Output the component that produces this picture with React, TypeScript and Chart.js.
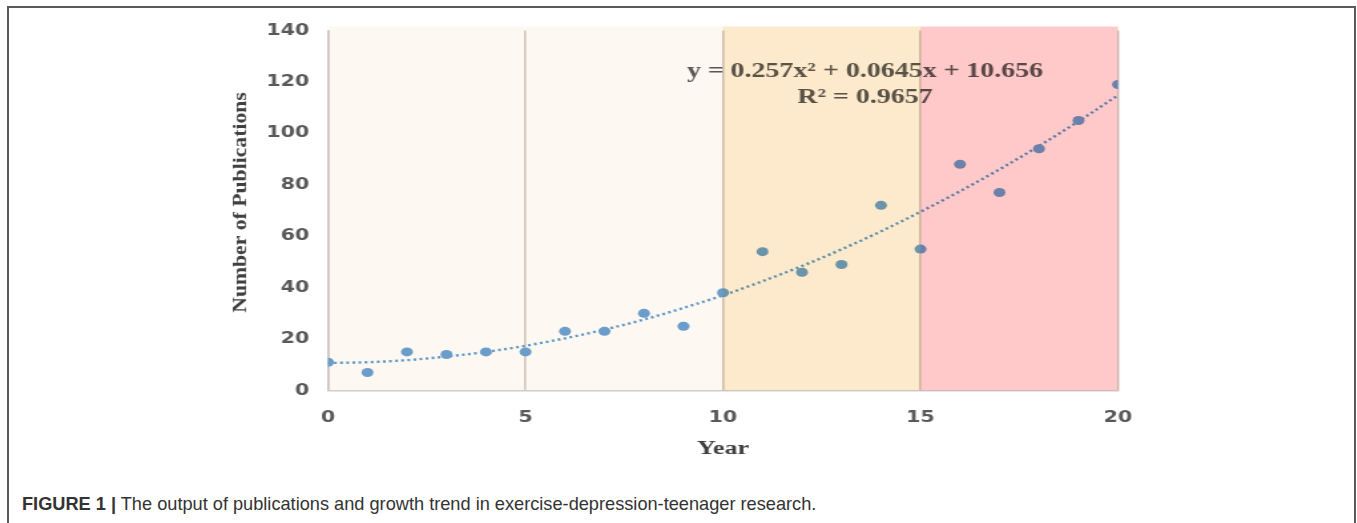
import React, { useEffect, useRef } from "react";
import { Chart, registerables } from "chart.js";

Chart.register(...registerables);

// ---- data ----
const YEARS = [0, 1, 2, 3, 4, 5, 6, 7, 8, 9, 10, 11, 12, 13, 14, 15, 16, 17, 18, 19, 20];
const PUBLICATIONS = [11, 7, 15, 14, 15, 15, 23, 23, 30, 25, 38, 54, 46, 49, 72, 55, 88, 77, 94, 105, 119];
// dotted trend line values at each year
const TREND = [10.7, 11.0, 11.8, 13.2, 15.0, 17.4, 20.3, 23.7, 27.6, 32.1, 37.0, 42.5, 48.4, 54.9, 61.9, 69.5, 77.5, 86.0, 95.1, 104.7, 114.8];
const X_TICK_STEP = 5;
const Y_TICK_STEP = 20;
const X_RANGE = [0, 20];
const Y_RANGE = [0, 140];
const BAND_START = [0, 10, 15];
const BAND_END = [10, 15, 20];
const EQUATION_LINES = ["y = 0.257x\u00b2 + 0.0645x + 10.656", "R\u00b2 = 0.9657"];
const X_TITLE = "Year";
const Y_TITLE = "Number of Publications";
const CAPTION_BOLD = "FIGURE 1 |";
const CAPTION_TEXT = " The output of publications and growth trend in exercise-depression-teenager research.";

// ---- styles ----
const STRETCH = 1.33;
const CANVAS_W = 1020;
const CANVAS_H = 470;
const BAND_COLORS = ["#fdf8f1", "#fde9cb", "#ffc9c9"];
const POINT_COLOR = "#6ca2d6";
const TREND_COLOR = "#5b9bd5";
const TEXT_GRAY = "#595959";
const TITLE_GRAY = "#404040";

const overlayPlugin = {
  id: "overlay",
  afterDatasetsDraw(chart: any) {
    const { ctx, chartArea, scales } = chart;
    const xs = scales.x;
    // equation (trendline label)
    ctx.save();
    ctx.fillStyle = TEXT_GRAY;
    ctx.font = "bold 21px 'Liberation Serif', 'Times New Roman', serif";
    ctx.textAlign = "center";
    ctx.textBaseline = "middle";
    const cx = 865 / STRETCH;
    ctx.fillText(EQUATION_LINES[0], cx, 72);
    ctx.fillText(EQUATION_LINES[1], cx, 98);
    ctx.restore();
    // shaded periods, multiplied over the marks
    ctx.save();
    ctx.globalCompositeOperation = "multiply";
    for (let i = 0; i < BAND_START.length; i++) {
      const x0 = xs.getPixelForValue(BAND_START[i]);
      const x1 = xs.getPixelForValue(BAND_END[i]);
      ctx.fillStyle = BAND_COLORS[i];
      ctx.fillRect(x0, chartArea.top - 4, x1 - x0, chartArea.bottom - chartArea.top + 4);
    }
    ctx.restore();
  },
  afterDraw(chart: any) {
    const { ctx, chartArea } = chart;
    ctx.save();
    ctx.fillStyle = TITLE_GRAY;
    ctx.font = "bold 21.7px 'Liberation Serif', 'Times New Roman', serif";
    ctx.textAlign = "center";
    ctx.textBaseline = "middle";
    ctx.translate(241 / STRETCH, (chartArea.top + chartArea.bottom) / 2 - 8);
    ctx.rotate(-Math.PI / 2);
    ctx.scale(1, 0.66);
    ctx.fillText(Y_TITLE, 0, 0);
    ctx.restore();
  },
};

export default function App() {
  const ref = useRef<HTMLCanvasElement>(null);
  useEffect(() => {
    if (!ref.current) return;
    Chart.defaults.font.family = "'DejaVu Sans', sans-serif";
    const chart = new Chart(ref.current, {
      type: "scatter",
      data: {
        datasets: [
          {
            label: "Publications",
            data: YEARS.map((x, i) => ({ x, y: PUBLICATIONS[i] })),
            backgroundColor: POINT_COLOR,
            borderWidth: 0,
            pointRadius: 4.5,
            pointHoverRadius: 4.5,
          },
          {
            label: "Trend",
            type: "line",
            data: YEARS.map((x, i) => ({ x, y: TREND[i] })),
            borderColor: TREND_COLOR,
            borderWidth: 2.4,
            borderDash: [2, 2.6],
            pointRadius: 0,
            cubicInterpolationMode: "monotone",
            fill: false,
          } as any,
        ],
      },
      options: {
        animation: false,
        responsive: false,
        events: [],
        layout: { padding: { left: 0, right: CANVAS_W - 840.6, top: 30.5, bottom: 0 } },
        plugins: { legend: { display: false }, tooltip: { enabled: false } },
        scales: {
          x: {
            type: "linear",
            min: X_RANGE[0],
            max: X_RANGE[1],
            afterFit: (s: any) => {
              s.height = 79.5;
            },
            ticks: {
              stepSize: X_TICK_STEP,
              padding: 18,
              color: TEXT_GRAY,
              font: { size: 15.5, weight: "bold" },
            },
            grid: { display: true, color: "#cfcac4", lineWidth: 1.5, drawTicks: false },
            border: { display: true, color: "#d0d0d0", width: 1.5 },
            title: {
              display: true,
              text: X_TITLE,
              color: TITLE_GRAY,
              font: { family: "'Liberation Serif', 'Times New Roman', serif", size: 19.6, weight: "bold" },
              padding: { top: 0, bottom: 9 },
            },
          },
          y: {
            type: "linear",
            min: Y_RANGE[0],
            max: Y_RANGE[1],
            afterFit: (s: any) => {
              s.width = 246.6;
            },
            ticks: {
              stepSize: Y_TICK_STEP,
              padding: 14,
              color: TEXT_GRAY,
              font: { size: 15.5, weight: "bold" },
            },
            grid: { display: false, drawTicks: false },
            border: { display: true, color: "#cfcac4", width: 1.5 },
          },
        },
      },
      plugins: [overlayPlugin],
    });
    return () => chart.destroy();
  }, []);

  return (
    <div style={{ position: "fixed", left: 0, top: 0, width: 1357, height: 523, overflow: "hidden", background: "#fff" }}>
      <div
        style={{
          position: "absolute",
          left: 7,
          top: 6,
          width: 1349,
          height: 560,
          border: "2px solid #5a5a5a",
          boxSizing: "border-box",
        }}
      />
      <canvas
        ref={ref}
        width={CANVAS_W}
        height={CANVAS_H}
        style={{
          position: "absolute",
          left: 0,
          top: 0,
          width: CANVAS_W + "px",
          height: CANVAS_H + "px",
          transform: `scaleX(${STRETCH})`,
          transformOrigin: "0 0",
        }}
      />
      <div
        style={{
          position: "absolute",
          left: 22,
          top: 494,
          fontFamily: "'Liberation Sans', Arial, sans-serif",
          fontSize: 18.2,
          lineHeight: "20px",
          color: "#333",
          whiteSpace: "nowrap",
        }}
      >
        <b>{CAPTION_BOLD}</b>
        {CAPTION_TEXT}
      </div>
    </div>
  );
}
